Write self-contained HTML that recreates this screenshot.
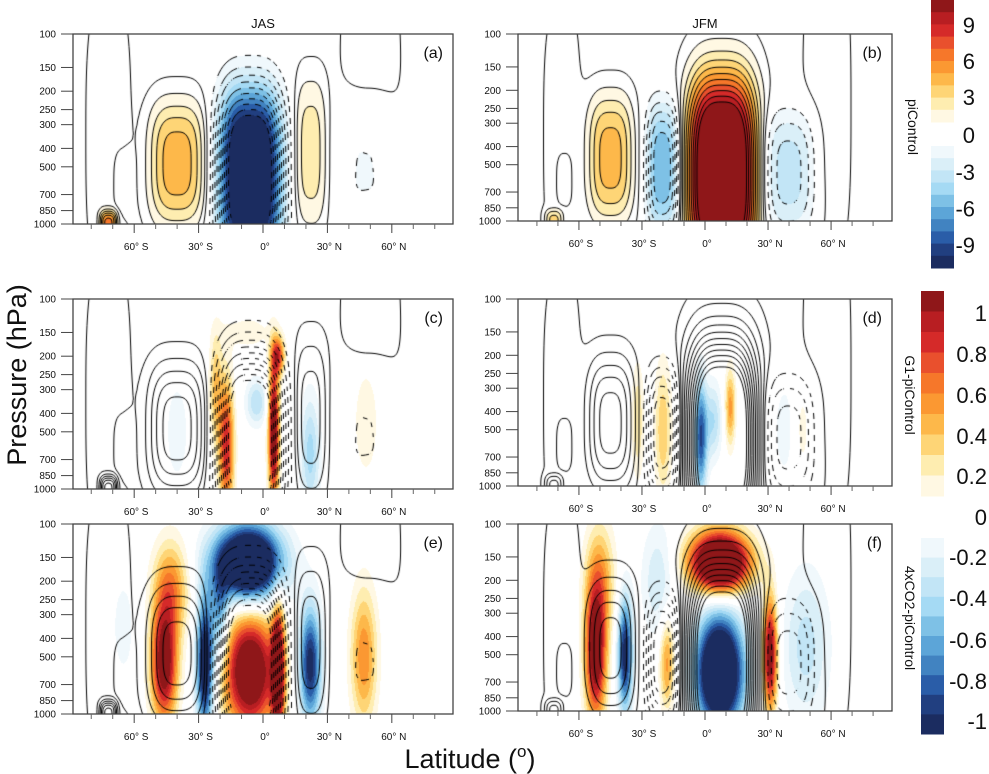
<!DOCTYPE html>
<html><head><meta charset="utf-8">
<style>
html,body{margin:0;padding:0;background:#fff;}
#root{position:relative;width:989px;height:774px;overflow:hidden;font-family:"Liberation Sans",sans-serif;}
canvas{position:absolute;}
svg{position:absolute;left:0;top:0;}
</style></head>
<body>
<div id="root">
<svg id="ov" width="989" height="774"></svg>
</div>
<script>
// ---- data ----
const pressureTicks=[100,150,200,250,300,400,500,700,850,1000];
const latMajorTicks=[-60,-30,0,30,60];
const latMajorLabels=["60° S","30° S","0°","30° N","60° N"];
const latMinorTicks=[-80,-70,-50,-40,-20,-10,10,20,40,50,70,80];
// blobs: [lat, pressure hPa, lat width, log-p width, amplitude]
const psiJAS=[[-6,560,14.5,0.46,-14],[-40,480,12.7,0.32,4.6],[22,420,7.2,0.38,2.6],[48,500,13,0.36,-1.6],[-72,1000,4,0.07,6],[-65,600,4,0.15,-1.3],[-72,350,11,0.8,0.6],[50,250,15,0.9,0.6]];
const psiJFM=[[8,560,16,0.52,15],[-20,520,7.8,0.34,-6],[-45,460,10.5,0.33,4.5],[40,550,12.7,0.32,-3.5],[-72,1000,4,0.06,3],[-67,600,3,0.12,-1.2],[-68,350,10,0.8,0.5],[58,250,12,0.9,0.6]];
const g1JAS=[[5,500,2.5,0.35,1.3],[-17,600,3.5,0.35,0.9],[-22,300,3,0.3,0.4],[7,200,3,0.1,0.8],[-3,350,5,0.12,-0.4],[22,650,4.5,0.3,-0.45],[48,450,6,0.3,0.18],[-40,500,5,0.25,-0.2],[-7,150,12,0.1,0.15]];
const g1JFM=[[-2,550,3,0.3,-0.9],[4,450,4,0.2,-0.4],[12,380,2.5,0.2,0.55],[-20,500,4,0.35,0.4],[-32,450,3,0.3,0.3],[38,500,6,0.3,-0.15],[46,500,4,0.25,0.15]];
const co2JAS=[[-7,160,15,0.19,-1.9],[-6,600,12,0.3,1.4],[7,600,3,0.35,1.2],[-46,550,6,0.3,1.2],[-43,220,8,0.25,0.6],[-27,550,4,0.35,-1.3],[-20,300,4,0.25,-0.6],[22,550,5,0.3,-1.1],[47,500,6,0.35,0.6],[-65,350,6,0.3,-0.15]];
const co2JFM=[[7,160,14,0.16,1.8],[7,620,11,0.3,-1.8],[-52,500,5,0.35,1.2],[-50,200,7,0.3,0.5],[-38,500,3.5,0.3,-1.1],[-18,550,3.5,0.25,0.55],[-22,200,8,0.3,-0.3],[31,500,3.5,0.3,1.2],[48,450,11,0.4,-0.35]];
const psiLevels=[-10,-9,-8,-7,-6,-5,-4,-3,-2,-1,0.25,1,2,3,4,5,6,7,8,9,10];
const piLabels=["9","6","3","0","-3","-6","-9"];
const diffLabels=["1","0.8","0.6","0.4","0.2","0","-0.2","-0.4","-0.6","-0.8","-1"];
const reds=["#fff8e3","#feedb0","#fed576","#fdb84a","#fb9832","#f6772a","#e9502d","#d52a29","#b81e22","#8f1719"];
const blues=["#f0f8fc","#daeff8","#c2e5f6","#a5daf4","#7ec1e6","#5ca5d8","#4183c1","#2a5da8","#213f80","#1b2c60"];

const panels=[
 {id:"a",x:73,y:34,w:380,h:190,lat:88.5,fill:psiJAS,pw:3,scale:1,psi:psiJAS,title:"JAS"},
 {id:"b",x:518,y:34,w:374,h:187,lat:89,fill:psiJFM,pw:3,scale:1,psi:psiJFM,title:"JFM"},
 {id:"c",x:73,y:299,w:380,h:190,lat:88.5,fill:g1JAS,pw:2,scale:10,psi:psiJAS},
 {id:"d",x:518,y:299,w:374,h:187,lat:89,fill:g1JFM,pw:2,scale:10,psi:psiJFM},
 {id:"e",x:73,y:524,w:380,h:190,lat:88.5,fill:co2JAS,pw:2,scale:10,psi:psiJAS},
 {id:"f",x:518,y:524,w:374,h:187,lat:89,fill:co2JFM,pw:2,scale:10,psi:psiJFM}
];
function field(bl,pw,lat,lp){let s=0;for(const b of bl){const u=Math.abs((lat-b[0])/b[2]),v=Math.abs((lp-Math.log10(b[1]))/b[3]);s+=b[4]*Math.exp(-(Math.pow(u,pw)+Math.pow(v,pw)));}return s;}
function colorOf(v,scale){const k=Math.floor(Math.abs(v)*scale+1e-9);if(k<1)return null;const i=Math.min(k,10)-1;return v>0?reds[i]:blues[i];}
const root=document.getElementById('root');
const ov=document.getElementById('ov');
const NS="http://www.w3.org/2000/svg";
function mk(tag,attrs,parent){const e=document.createElementNS(NS,tag);for(const k in attrs)e.setAttribute(k,attrs[k]);(parent||ov).appendChild(e);return e;}
for(const P of panels){
 const xOf=lat=>P.x+(lat+P.lat)/(2*P.lat)*P.w;
 const yOf=p=>P.y+(Math.log10(p)-2)*P.h;
 const cv=document.createElement('canvas');
 cv.width=P.w;cv.height=P.h;cv.style.left=P.x+'px';cv.style.top=P.y+'px';
 
 
 root.insertBefore(cv,ov);
 const ctx=cv.getContext('2d');
 const latAt=px=>-P.lat+px/P.w*2*P.lat, lpAt=py=>2+py/P.h;
 for(let py=0;py<P.h;py++)for(let px=0;px<P.w;px++){
   const c=colorOf(field(P.fill,P.pw,latAt(px+0.5),lpAt(py+0.5)),P.scale);
   if(c){ctx.fillStyle=c;ctx.fillRect(px,py,1,1);}
 }
 const st=2,nx=Math.ceil(P.w/st)+1,ny=Math.ceil(P.h/st)+1,g=[];
 for(let j=0;j<ny;j++){g[j]=[];for(let i=0;i<nx;i++)g[j][i]=field(P.psi,3,latAt(i*st),lpAt(j*st));}
 ctx.strokeStyle="#000";ctx.lineWidth=1;
 for(const L of psiLevels){
  ctx.beginPath();
  for(let j=0;j<ny-1;j++)for(let i=0;i<nx-1;i++){
   const a=g[j][i],b=g[j][i+1],c=g[j+1][i+1],d=g[j+1][i];
   const pts=[];
   const ed=(v1,v2,x1,y1,x2,y2)=>{if((v1-L)*(v2-L)<0){const t=(L-v1)/(v2-v1);pts.push([x1+(x2-x1)*t,y1+(y2-y1)*t]);}};
   const X=i*st,Y=j*st;
   ed(a,b,X,Y,X+st,Y);ed(b,c,X+st,Y,X+st,Y+st);ed(c,d,X+st,Y+st,X,Y+st);ed(d,a,X,Y+st,X,Y);
   if(L<0&&Math.floor((X+Y)/6)%2===1)continue;
   for(let k=0;k+1<pts.length;k+=2){ctx.moveTo(pts[k][0],pts[k][1]);ctx.lineTo(pts[k+1][0],pts[k+1][1]);}
  }
  ctx.stroke();
 }
 const gA=mk('g',{});
 
 
 mk('rect',{x:P.x,y:P.y,width:P.w,height:P.h,fill:'none',stroke:'#444','stroke-width':1.3},gA);
 for(const p of pressureTicks){
  const y=yOf(p);
  mk('line',{x1:P.x-12,x2:P.x,y1:y,y2:y,stroke:'#444','stroke-width':1},gA);
  const t=mk('text',{x:P.x-17,y:y+3.5,'font-size':10,'text-anchor':'end',fill:'#111'},gA);
  
  
  t.textContent=p;
 }
 latMajorTicks.forEach((l,k)=>{
  const x=xOf(l);
  mk('line',{x1:x,x2:x,y1:P.y+P.h,y2:P.y+P.h+9,stroke:'#444','stroke-width':1},gA);
  const t=mk('text',{x:x+2,y:P.y+P.h+26,'font-size':10,'text-anchor':'middle',fill:'#111'},gA);
  
  
  t.textContent=latMajorLabels[k];
 });
 for(const l of latMinorTicks){const x=xOf(l);mk('line',{x1:x,x2:x,y1:P.y+P.h,y2:P.y+P.h+5,stroke:'#666','stroke-width':1},gA);}
 const lt=mk('text',{x:P.x+P.w-10,y:P.y+24,'font-size':16,'text-anchor':'end',fill:'#111'},gA);
 
 
 lt.textContent='('+P.id+')';
 if(P.title){const tt=mk('text',{x:xOf(0),y:P.y-6,'font-size':13,'text-anchor':'middle',fill:'#111'},gA);
  
  
  tt.textContent=P.title;}
}
function boxes(x,top,bottom,cols,name){
 const gB=mk('g',{});
 
 
 const bh=(bottom-top)/cols.length;
 cols.forEach((c,k)=>mk('rect',{x:x,y:top+k*bh,width:23,height:bh+0.5,fill:c},gB));
}
boxes(931,0,122,reds.slice().reverse(),'colorbar-picontrol-positive');
boxes(931,146,268,blues,'colorbar-picontrol-negative');
piLabels.forEach((s,k)=>{let y=k<3?25+36*k:(k===3?135:172+36.5*(k-4));
 const t=mk('text',{x:975,y:y+8,'font-size':22,'text-anchor':'end',fill:'#111'});
 
 
 t.textContent=s;});
boxes(921,291,496,reds.slice().reverse(),'colorbar-g1');
boxes(921,538,734,blues,'colorbar-4xco2');
const diffY=[313,354,395,436,476,517,557,598,640,681,721];
diffLabels.forEach((s,k)=>{const t=mk('text',{x:987,y:diffY[k]+8,'font-size':22,'text-anchor':'end',fill:'#111'});
 
 
 t.textContent=s;});
[["piControl",908,127,"row-label-picontrol"],["G1-piControl",905,395,"row-label-g1"],["4xCO2-piControl",905,618,"row-label-4xco2"]].forEach(r=>{
 const t=mk('text',{x:r[1],y:r[2],'font-size':14,'text-anchor':'middle',fill:'#111',transform:`rotate(90 ${r[1]} ${r[2]})`});
 
 
 t.textContent=r[0];});
const yt=mk('text',{x:26,y:375,'font-size':27,'text-anchor':'middle',fill:'#111',transform:'rotate(-90 26 375)'});


yt.textContent='Pressure (hPa)';
const xt=mk('text',{x:470,y:768,'font-size':27,'text-anchor':'middle',fill:'#111'});


xt.innerHTML='Latitude (<tspan dy="-11" font-size="17">o</tspan><tspan dy="11">)</tspan>';
</script>
</body></html>
